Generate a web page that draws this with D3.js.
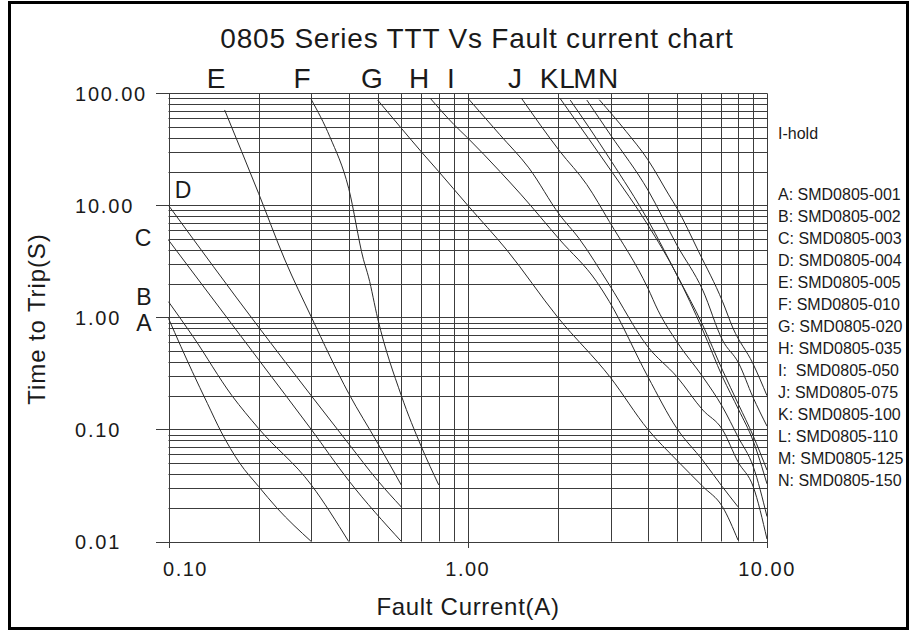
<!DOCTYPE html>
<html>
<head>
<meta charset="utf-8">
<script src="https://cdn.jsdelivr.net/npm/d3@7/dist/d3.min.js"></script>
<style>
  body { margin: 0; background: #fff; }
  svg text { font-family: "Liberation Sans", Arial, sans-serif; fill: #1a1a1a; }
</style>
</head>
<body>
<svg id="chart" width="911" height="632"></svg>
<script>
// ---- data (current in A, time to trip in s) ----
const seriesNames = ["A", "B", "C", "D", "E", "F", "G", "H", "I", "J", "K", "L", "M", "N"];
const partNumbers = ["SMD0805-001", "SMD0805-002", "SMD0805-003", "SMD0805-004", "SMD0805-005",
  "SMD0805-010", "SMD0805-020", "SMD0805-035", "SMD0805-050", "SMD0805-075",
  "SMD0805-100", "SMD0805-110", "SMD0805-125", "SMD0805-150"];

const curveA = [[0.1, 0.98], [0.11, 0.55], [0.12, 0.33], [0.135, 0.17], [0.15, 0.095], [0.173, 0.05], [0.2, 0.031], [0.23, 0.02], [0.3, 0.01]];
const curveB = [[0.1, 1.38], [0.121, 0.67], [0.163, 0.2], [0.2, 0.102], [0.3, 0.032], [0.4, 0.01]];
const curveC = [[0.1, 4.9], [0.2, 0.42], [0.3, 0.1], [0.4, 0.035], [0.6, 0.01]];
const curveD = [[0.1, 10], [0.2, 0.82], [0.3, 0.2], [0.4, 0.0745], [0.5, 0.035], [0.6, 0.0203]];
const curveE = [[0.154, 71], [0.2, 12.8], [0.245, 3.25], [0.3, 1.01], [0.4, 0.21], [0.5, 0.0755], [0.6, 0.0318]];
const curveF = [[0.3, 88], [0.346, 41], [0.4, 14.2], [0.448, 3.3], [0.466, 2.3], [0.5, 0.98], [0.6, 0.2], [0.7, 0.07], [0.8, 0.032]];
const curveG = [[0.5, 87], [0.6, 48.7], [0.7, 30], [0.8, 20], [1.0, 10], [1.35, 4], [2.0, 1.0], [3.0, 0.29], [4.0, 0.1], [5.0, 0.053], [6.1, 0.031], [7.1, 0.0204], [8.0, 0.0103]];
const curveH = [[0.75, 90], [0.9, 52.5], [1.0, 39.9], [1.28, 20.1], [1.51, 12.4], [2.03, 4.93], [2.69, 2.1], [2.97, 1.39], [4.0, 0.295], [5.0, 0.102], [6.1, 0.053], [7.1, 0.0307], [8.0, 0.0204]];
const curveI = [[1.0, 90.7], [1.28, 42.7], [1.6, 21.6], [2.03, 8.2], [2.35, 5.1], [2.97, 1.96], [4.0, 0.546], [5.0, 0.295], [6.1, 0.149], [7.1, 0.0996], [8.0, 0.0514], [9.0, 0.0307], [10, 0.0105]];
const curveJ = [[1.51, 90.7], [2.03, 30.4], [2.5, 15.3], [2.97, 7.2], [4.0, 1.82], [4.32, 1.16], [5.0, 0.605], [6.1, 0.295], [7.1, 0.159], [8.0, 0.0859], [9.0, 0.0464], [10, 0.0167]];
const curveK = [[2.03, 90.8], [2.55, 38.5], [3.0, 20.7], [4.0, 6.67], [5.0, 2.39], [6.1, 0.77], [7.1, 0.295], [8.05, 0.149], [8.97, 0.0802], [10, 0.0327]];
const curveL = [[2.2, 87], [2.55, 49], [3.0, 25.4], [4.0, 7.39], [5.0, 2.39], [6.1, 0.853], [7.1, 0.338], [8.05, 0.165], [8.97, 0.089], [10, 0.0434]];
const curveM = [[2.5, 87], [3.0, 42.5], [4.0, 13.7], [5.0, 4.42], [6.1, 1.75], [7.1, 0.627], [8.05, 0.388], [8.97, 0.195], [10, 0.107]];
const curveN = [[2.75, 87.7], [3.38, 45.8], [4.0, 25.5], [4.7, 12.4], [5.0, 9.45], [5.9, 3.9], [7.1, 1.39], [7.7, 0.8], [8.97, 0.388], [10, 0.2]];

const curves = [curveA, curveB, curveC, curveD, curveE, curveF, curveG, curveH, curveI, curveJ, curveK, curveL, curveM, curveN];

const xTicks = [0.1, 1, 10];
const xTickLabels = ["0.10", "1.00", "10.00"];
const yTicks = [100, 10, 1, 0.1, 0.01];
const yTickLabels = ["100.00", "10.00", "1.00", "0.10", "0.01"];

// ---- layout ----
const svg = d3.select("#chart");
const x = d3.scaleLog().domain([0.1, 10]).range([168.5, 767]);
const y = d3.scaleLog().domain([0.01, 100]).range([541.5, 93.3]);
const px = v => Math.round(x(v)) + 0.5;
const py = v => Math.round(y(v)) + 0.5;

// minor values for the log grid
const gridX = [], gridY = [];
[0.1, 1].forEach(d => { for (let k = 1; k < 10; k++) gridX.push(d * k); });
gridX.push(10);
[0.01, 0.1, 1, 10].forEach(d => { for (let k = 1; k < 10; k++) gridY.push(d * k); });
gridY.push(100);

// outer frame
svg.append("rect")
  .attr("x", 9.5).attr("y", 2.5)
  .attr("width", 898).attr("height", 626)
  .attr("fill", "none").attr("stroke", "#000").attr("stroke-width", 3);

const grid = svg.append("g").attr("stroke", "#3c3c3c").attr("stroke-width", 1);

grid.selectAll("line.h").data(gridY).enter().append("line")
  .attr("class", "h")
  .attr("x1", d => yTicks.includes(d) ? 156 : x(0.1))
  .attr("x2", x(10))
  .attr("y1", d => py(d)).attr("y2", d => py(d));

grid.selectAll("line.v").data(gridX).enter().append("line")
  .attr("class", "v")
  .attr("x1", d => px(d)).attr("x2", d => px(d))
  .attr("y1", y(100))
  .attr("y2", d => xTicks.includes(d) ? 548 : y(0.01));

// curves
const line = d3.line()
  .x(d => x(d[0]))
  .y(d => y(d[1]))
  .curve(d3.curveMonotoneX);

svg.append("g").selectAll("path").data(curves).enter().append("path")
  .attr("d", line)
  .attr("fill", "none")
  .attr("stroke", "#2a2a2a")
  .attr("stroke-width", 1);

// tick labels
svg.append("g").selectAll("text").data(yTicks).enter().append("text")
  .attr("x", 75)
  .attr("y", d => y(d))
  .attr("dy", "0.36em")
  .style("font-size", "20px")
  .style("letter-spacing", "1.8px")
  .text((d, i) => yTickLabels[i]);

svg.append("g").selectAll("text").data(xTicks).enter().append("text")
  .attr("x", (d, i) => x(d) + (i === 0 ? 17 : 0))
  .attr("y", 569)
  .attr("dy", "0.36em")
  .attr("text-anchor", "middle")
  .style("font-size", "20px")
  .style("letter-spacing", "1.5px")
  .text((d, i) => xTickLabels[i]);

// titles
svg.append("text")
  .attr("x", 477).attr("y", 48)
  .attr("text-anchor", "middle")
  .style("font-size", "28px")
  .style("letter-spacing", "0.8px")
  .text("0805 Series TTT Vs Fault current chart");

svg.append("text")
  .attr("x", 468).attr("y", 615)
  .attr("text-anchor", "middle")
  .style("font-size", "24px")
  .style("letter-spacing", "0.7px")
  .text("Fault Current(A)");

svg.append("text")
  .attr("transform", "translate(45,319) rotate(-90)")
  .attr("text-anchor", "middle")
  .style("font-size", "24px")
  .style("letter-spacing", "0.9px")
  .text("Time to Trip(S)");

// curve letters
const topLetters = ["E", "F", "G", "H", "I", "J", "K", "L", "M", "N"];
const topLetterX = [216, 302, 372, 419, 451, 515, 549, 567, 585, 608];
svg.append("g").selectAll("text").data(topLetters).enter().append("text")
  .attr("x", (d, i) => topLetterX[i])
  .attr("y", 88)
  .attr("text-anchor", "middle")
  .style("font-size", "28px")
  .text(d => d);

const sideLetters = [["D", 183, 198], ["C", 143, 246], ["B", 144, 305], ["A", 144, 331]];
svg.append("g").selectAll("text").data(sideLetters).enter().append("text")
  .attr("x", d => d[1]).attr("y", d => d[2])
  .attr("text-anchor", "middle")
  .style("font-size", "23px")
  .text(d => d[0]);

// legend
const legend = svg.append("g").attr("transform", "translate(778,0)");
legend.append("text")
  .attr("x", 0).attr("y", 133).attr("dy", "0.36em")
  .style("font-size", "16px")
  .text("I-hold");
legend.selectAll("text.item").data(seriesNames).enter().append("text")
  .attr("class", "item")
  .attr("x", 0)
  .attr("y", (d, i) => 194 + i * 22)
  .attr("dy", "0.36em")
  .style("font-size", "16px")
  .attr("xml:space", "preserve")
  .text((d, i) => d + ": " + (d === "I" ? " " : "") + partNumbers[i]);
</script>
</body>
</html>
